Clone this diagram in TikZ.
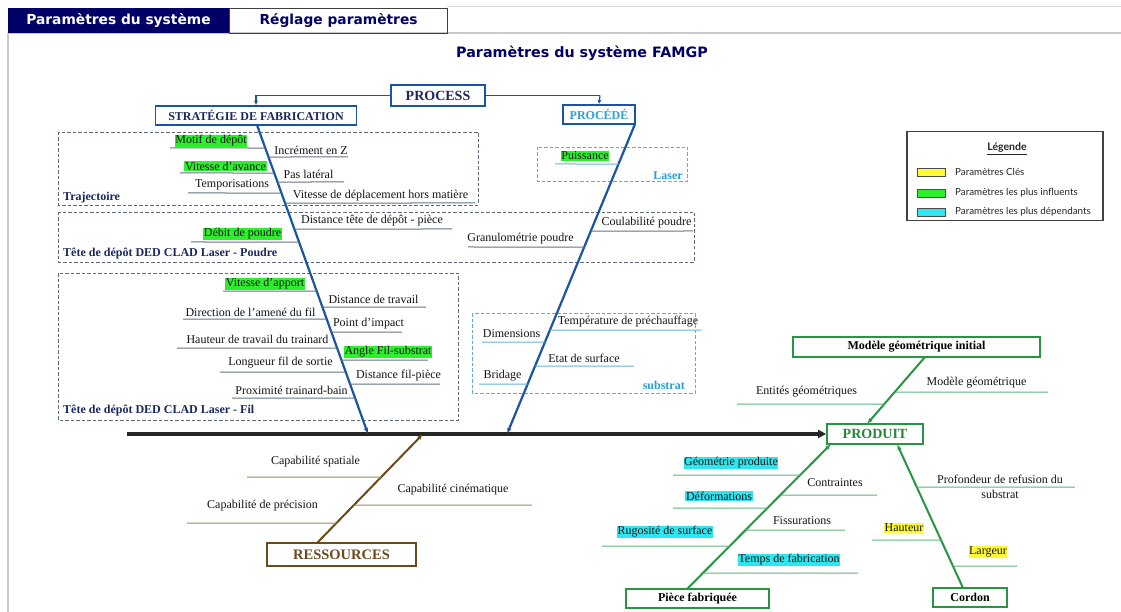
\documentclass[tikz,border=0pt]{standalone}
\usepackage{fontspec}
\setmainfont{Liberation Serif}
\newfontfamily\dvs{DejaVu Sans}
\newfontfamily\lato{Lato}
\usetikzlibrary{arrows.meta}
\definecolor{navy}{RGB}{0,0,102}
\definecolor{tnavy}{RGB}{25,40,95}
\definecolor{bblue}{RGB}{25,85,160}
\definecolor{lblue}{RGB}{40,160,215}
\definecolor{dashc}{RGB}{95,105,125}
\definecolor{dashl}{RGB}{90,175,215}
\definecolor{brl}{RGB}{100,115,135}
\definecolor{brlb}{RGB}{100,180,222}
\definecolor{gline}{RGB}{40,150,65}
\definecolor{gbr}{RGB}{95,180,125}
\definecolor{brn}{RGB}{105,75,25}
\definecolor{brownl}{RGB}{160,138,88}
\definecolor{hgreen}{RGB}{45,240,45}
\definecolor{hcyan}{RGB}{45,230,240}
\definecolor{hyellow}{RGB}{255,250,50}
\definecolor{framec}{RGB}{200,200,200}
\newcommand\brL[4]{\draw[#1] (#2,#3) -- (intersection of #4 and 0,#3--1,#3);}
\newcommand\brR[4]{\draw[#1] (intersection of #4 and 0,#3--1,#3) -- (#2,#3);}
\begin{document}
\begin{tikzpicture}[x=1pt,y=-1pt,
  lab/.style={font=\fontsize{12}{13}\selectfont, inner sep=0.6pt, text=black!92},
  hg/.style={lab, fill=hgreen},
  hc/.style={lab, fill=hcyan},
  hy/.style={lab, fill=hyellow},
  grp/.style={font=\fontsize{12}{13}\selectfont\bfseries, text=tnavy, inner sep=0, anchor=west},
  grpl/.style={font=\fontsize{12}{13}\selectfont\bfseries, text=lblue, inner sep=0, anchor=east},
  dbox/.style={draw=dashc, line width=0.9pt, dash pattern=on 3.5pt off 2pt},
  dboxl/.style={dbox, draw=dashl},
  bbr/.style={draw=brl, line width=1pt},
  bbrl/.style={draw=brlb, line width=1pt},
  gbrs/.style={draw=gbr, line width=1pt},
  rbr/.style={draw=brownl, line width=1pt},
  catbox/.style={draw, line width=1.8pt, inner sep=0, fill=white},
  arr/.style={-{Latex[length=6pt,width=4.5pt]}},
  lgtxt/.style={font=\lato\fontsize{9.8}{11}\selectfont, anchor=west, inner sep=0, text=black!85},
  swatch/.style={draw=black!70, line width=0.6pt, minimum width=28pt, minimum height=8pt, inner sep=0}
]
\useasboundingbox (0,0) rectangle (1121,612);
\fill[white] (0,0) rectangle (1121,612);
% frame and tabs
\draw[framec!70, line width=1pt] (447,7) -- (1121,7);
\draw[framec, line width=1.2pt] (8,33) -- (1121,33);
\draw[framec, line width=1.5pt] (8,33) -- (8,612);
\node[fill=navy, minimum width=221pt, minimum height=25pt, inner sep=0, text=white,
  font=\dvs\bfseries\fontsize{13.8}{15}\selectfont] (tab1) at (118.5,20.5) {Paramètres du système};
\node[draw=black!75, line width=0.8pt, minimum width=218pt, minimum height=25pt, inner sep=0, text=navy,
  font=\dvs\bfseries\fontsize{13.8}{15}\selectfont, anchor=west] (tab2) at (tab1.east) {Réglage paramètres};
\node[text=navy, font=\dvs\bfseries\fontsize{14.3}{16}\selectfont] (title) at (582,53) {Paramètres du système FAMGP};

% dashed group boxes
\draw[dbox] (58,132) rectangle (478,205);
\draw[dbox] (58,212) rectangle (694,262);
\draw[dbox] (58,273) rectangle (458,420);
\draw[dboxl] (537,147) rectangle (687,181);
\draw[dboxl] (472,313) rectangle (695,393);

% category boxes
\node[catbox, draw=bblue, minimum width=94pt, minimum height=21pt, text=tnavy,
  font=\bfseries\fontsize{14}{16}\selectfont] (process) at (438,95.5) {PROCESS};
\node[catbox, draw=bblue, minimum width=201pt, minimum height=19pt, text=tnavy,
  font=\bfseries\fontsize{12}{13}\selectfont] (strat) at (256,115.5) {STRATÉGIE DE FABRICATION};
\node[catbox, draw=bblue, minimum width=72pt, minimum height=19pt, text=lblue,
  font=\bfseries\fontsize{12}{14}\selectfont] (procede) at (599,114.5) {PROCÉDÉ};
\node[catbox, draw=gline, minimum width=96pt, minimum height=20pt, text=gline!90!black,
  font=\bfseries\fontsize{14}{16}\selectfont] (prod) at (875,434) {PRODUIT};
\node[catbox, draw=gline, minimum width=247pt, minimum height=20pt, text=black,
  font=\bfseries\fontsize{12}{13}\selectfont] (modele) at (916.5,347) {Modèle géométrique initial};
\node[catbox, draw=gline, minimum width=143pt, minimum height=19pt, text=black,
  font=\bfseries\fontsize{12}{13}\selectfont] (piece) at (697.5,598.5) {Pièce fabriquée};
\node[catbox, draw=gline, minimum width=74pt, minimum height=19pt, text=black,
  font=\bfseries\fontsize{12}{13}\selectfont] (cordon) at (970,597.5) {Cordon};
\node[catbox, draw=brn, minimum width=149pt, minimum height=23pt, text=brn,
  font=\bfseries\fontsize{14.5}{16}\selectfont] (ress) at (341.5,554.5) {RESSOURCES};

% coordinates
\coordinate (sp0) at (127,434);
\coordinate (sA) at (257,125);
\coordinate (jA) at (368,434);
\coordinate (sB) at (635,124);
\coordinate (jB) at (507,434);
\coordinate (sR) at (317,543);
\coordinate (jR) at (423,434);
\coordinate (mA) at (925,357);
\coordinate (pA) at (867,424);
\coordinate (pcA) at (687,589);
\coordinate (pB) at (831,444);
\coordinate (cdA) at (963,588);
\coordinate (pC) at (897,444);
\coordinate (kL) at (256,95.5);
\coordinate (kR) at (600,95.5);

% main spine
\draw[line width=3.5pt, draw=black!85, -{Triangle[length=8pt,width=8pt]}] (sp0) -- (prod.west);
% process connectors
\draw[bblue, line width=1.8pt] (process.west) -- (kL);
\draw[bblue, line width=1.2pt, -{Latex[length=4pt,width=4pt]}] (kL) -- (strat.north);
\draw[bblue, line width=1.8pt] (process.east) -- (kR);
\draw[bblue, line width=1.2pt, -{Latex[length=4pt,width=4pt]}] (kR) -- (procede.north);
\draw[bblue, line width=2.2pt, arr] (sA) -- (jA);
\draw[bblue, line width=2.2pt, arr] (sB) -- (jB);
\draw[brn, line width=2pt, arr] (sR) -- (jR);
\draw[gline, line width=2pt, arr] (mA) -- (pA);
\draw[gline, line width=2pt, arr] (pcA) -- (pB);
\draw[gline, line width=2pt, arr] (cdA) -- (pC);

% Trajectoire
\brL{bbr}{170}{148}{sA--jA}
\node[hg] (motif) at (211,141) {Motif de dépôt};
\brR{bbr}{348}{157}{sA--jA}
\node[lab] (incr) at (311,150) {Incrément en Z};
\brL{bbr}{180}{173}{sA--jA}
\node[hg] (vav) at (225.5,166) {Vitesse d’avance};
\brR{bbr}{344}{182}{sA--jA}
\node[lab] (pas) at (308.5,174) {Pas latéral};
\brL{bbr}{188}{193}{sA--jA}
\node[lab] (tempo) at (232,185) {Temporisations};
\brR{bbr}{475}{203}{sA--jA}
\node[lab] (vdep) at (380.5,196) {Vitesse de déplacement hors matière};
\node[grp] (gtraj) at (63,198) {Trajectoire};

% Poudre
\brR{bbr}{452}{229}{sA--jA}
\node[lab] (dist) at (372,221) {Distance tête de dépôt - pièce};
\brL{bbr}{191}{242}{sA--jA}
\node[hg] (debit) at (242.5,234) {Débit de poudre};
\brL{bbr}{468}{247}{sB--jB}
\node[lab] (granu) at (520.5,239) {Granulométrie poudre};
\brR{bbr}{693}{231}{sB--jB}
\node[lab] (coul) at (646.5,223) {Coulabilité poudre};
\node[grp] (gpoudre) at (63,254) {Tête de dépôt DED CLAD Laser - Poudre};

% Laser
\brL{bbrl}{555}{164}{sB--jB}
\node[hg] (puis) at (585,156) {Puissance};
\node[grpl] (glaser) at (683,176) {Laser};

% Fil
\brL{bbr}{223}{291}{sA--jA}
\node[hg] (vapp) at (265,284) {Vitesse d’apport};
\brR{bbr}{426}{307}{sA--jA}
\node[lab] (dtrav) at (373.5,299) {Distance de travail};
\brL{bbr}{183}{319}{sA--jA}
\node[lab] (dir) at (250.5,312) {Direction de l’amené du fil};
\brR{bbr}{402}{332}{sA--jA}
\node[lab] (impact) at (368.5,324) {Point d’impact};
\brL{bbr}{177}{348}{sA--jA}
\node[lab] (haut) at (257.5,339) {Hauteur de travail du trainard};
\brR{bbr}{428}{360}{sA--jA}
\node[hg] (angle) at (388,352) {Angle Fil-substrat};
\brL{bbr}{220}{372}{sA--jA}
\node[lab] (long) at (280.5,363) {Longueur fil de sortie};
\brR{bbr}{440}{384}{sA--jA}
\node[lab] (dfil) at (398.5,376) {Distance fil-pièce};
\brL{bbr}{232}{398}{sA--jA}
\node[lab] (prox) at (291.5,390) {Proximité trainard-bain};
\node[grp] (gfil) at (63,411) {Tête de dépôt DED CLAD Laser - Fil};

% Substrat
\brR{bbrl}{701}{330}{sB--jB}
\node[lab] (temp) at (628,322) {Température de préchauffage};
\brL{bbrl}{482}{342}{sB--jB}
\node[lab] (dims) at (511.5,334) {Dimensions};
\brR{bbrl}{634}{366}{sB--jB}
\node[lab] (etat) at (584,358) {Etat de surface};
\brL{bbrl}{479}{384}{sB--jB}
\node[lab] (brid) at (502.5,376) {Bridage};
\node[grpl] (gsub) at (685,385) {substrat};

% Ressources
\brL{rbr}{247}{477}{sR--jR}
\node[lab] (cspat) at (315.5,462) {Capabilité spatiale};
\brR{rbr}{532}{505}{sR--jR}
\node[lab] (ccin) at (453,490) {Capabilité cinématique};
\brL{rbr}{187}{523}{sR--jR}
\node[lab] (cprec) at (262.5,506) {Capabilité de précision};

% Produit - modele
\brR{gbrs}{1048}{392}{mA--pA}
\node[lab] (mgeo) at (976.5,383) {Modèle géométrique};
\brL{gbrs}{737}{404}{mA--pA}
\node[lab] (ent) at (806.5,392) {Entités géométriques};

% Piece fabriquee
\brL{gbrs}{673}{475}{pcA--pB}
\node[hc] (geo) at (731,463) {Géométrie produite};
\brR{gbrs}{877}{495}{pcA--pB}
\node[lab] (contr) at (835,483) {Contraintes};
\brL{gbrs}{673}{508}{pcA--pB}
\node[hc] (defo) at (719,496) {Déformations};
\brR{gbrs}{845}{530}{pcA--pB}
\node[lab] (fiss) at (802,521) {Fissurations};
\brL{gbrs}{602}{546}{pcA--pB}
\node[hc] (rug) at (665,532) {Rugosité de surface};
\brR{gbrs}{858}{573}{pcA--pB}
\node[hc] (temps) at (789,560) {Temps de fabrication};

% Cordon
\brR{gbrs}{1075}{487}{cdA--pC}
\node[lab] (prof1) at (1000,479) {Profondeur de refusion du};
\node[lab] (prof2) at (1000,494) {substrat};
\brL{gbrs}{872}{540}{cdA--pC}
\node[hy] (hauteur) at (904,528) {Hauteur};
\brR{gbrs}{1017}{566}{cdA--pC}
\node[hy] (largeur) at (988,552) {Largeur};

% Legend
\node[draw=black!75, line width=1.2pt, minimum width=196pt, minimum height=89pt, inner sep=0] (legend) at (1005,176) {};
\node[font=\lato\bfseries\fontsize{10.5}{12}\selectfont, text=black!85, inner sep=0] (legt) at (1007,149) {\underline{Légende}};
\node[swatch, fill=hyellow] (sw1) at (931,172) {};
\node[lgtxt] (lg1) at (955,172) {Paramètres Clés};
\node[swatch, fill=hgreen] (sw2) at (931,193) {};
\node[lgtxt] (lg2) at (955,193) {Paramètres les plus influents};
\node[swatch, fill=hcyan] (sw3) at (931,212) {};
\node[lgtxt] (lg3) at (955,212) {Paramètres les plus dépendants};
\end{tikzpicture}
\end{document}
